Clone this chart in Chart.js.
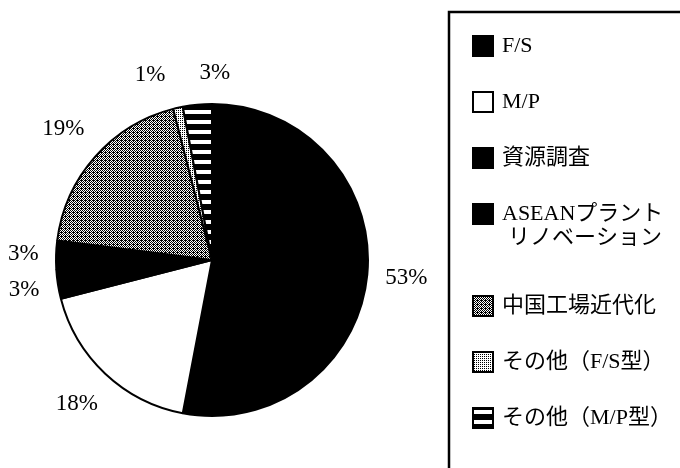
<!DOCTYPE html>
<html>
<head>
<meta charset="utf-8">
<script src="https://cdn.jsdelivr.net/npm/chart.js@4/dist/chart.umd.min.js"></script>
<style>
    html, body { margin: 0; padding: 0; background: #fff; }
    #wrap { position: relative; width: 680px; height: 468px; }
</style>
</head>
<body>
<div id="wrap"><canvas id="pieChart"></canvas></div>
<script>
    var categories = ['F/S', 'M/P', '資源調査', ['ASEANプラント', 'リノベーション'], '中国工場近代化', 'その他（F/S型）', 'その他（M/P型）'];
    var shares = [53, 18, 3, 3, 19, 1, 3];

    var FONT = '"Liberation Serif", "Noto Sans CJK JP", serif';

    function makePattern(w, h, paint) {
        var c = document.createElement('canvas');
        c.width = w;
        c.height = h;
        var g = c.getContext('2d');
        g.fillStyle = '#fff';
        g.fillRect(0, 0, w, h);
        g.fillStyle = '#000';
        paint(g);
        return g.createPattern(c, 'repeat');
    }

    var denseDots = makePattern(4, 4, function (g) {
        for (var y = 0; y < 4; y++) {
            for (var x = 0; x < 4; x++) {
                if ((x + y) % 2 === 0 || (x === 1 && y === 0)) g.fillRect(x, y, 1, 1);
            }
        }
    });
    var lightDots = makePattern(2, 2, function (g) {
        g.fillRect(0, 0, 1, 1);
    });
    var stripes = makePattern(4, 10, function (g) {
        g.fillRect(0, 4, 4, 6);
    });

    var fills = ['#000', '#fff', '#000', '#000', denseDots, lightDots, stripes];

    var pieLabels = {
        id: 'pieLabels',
        afterDatasetsDraw: function (chart) {
            var ctx = chart.ctx;
            var arcs = chart.getDatasetMeta(0).data;
            var h = 28, gap = 17, minGap = 34;
            ctx.save();
            ctx.font = '23px ' + FONT;
            var boxes = arcs.map(function (arc, i) {
                var p = arc.getProps(['x', 'y', 'startAngle', 'endAngle', 'outerRadius'], true);
                var mid = (p.startAngle + p.endAngle) / 2;
                var dx = Math.cos(mid), dy = Math.sin(mid);
                var text = shares[i] + '%';
                var w = ctx.measureText(text).width;
                var dist = p.outerRadius + gap + Math.abs(dx) * w / 2 + Math.abs(dy) * h / 2;
                return { text: text, w: w, x: p.x + dx * dist, y: p.y + dy * dist };
            });
            for (var i = 0; i < boxes.length; i++) {
                for (var j = i + 1; j < boxes.length; j++) {
                    var a = boxes[i], b = boxes[j];
                    if (Math.abs(a.y - b.y) >= 22) continue;
                    var left = a.x < b.x ? a : b, right = left === a ? b : a;
                    var space = (right.x - right.w / 2) - (left.x + left.w / 2);
                    if (space < minGap) {
                        var push = (minGap - space) / 2;
                        left.x -= push;
                        right.x += push;
                    }
                }
            }
            ctx.fillStyle = '#000';
            ctx.textAlign = 'center';
            ctx.textBaseline = 'middle';
            boxes.forEach(function (b) { ctx.fillText(b.text, b.x, b.y); });
            ctx.restore();
        }
    };

    var boxLegend = {
        id: 'boxLegend',
        afterDraw: function (chart) {
            var ctx = chart.ctx;
            var fillsUsed = chart.data.datasets[0].backgroundColor;
            ctx.save();
            ctx.strokeStyle = '#000';
            ctx.lineWidth = 2.5;
            ctx.beginPath();
            ctx.moveTo(449, 470);
            ctx.lineTo(449, 12);
            ctx.lineTo(680, 12);
            ctx.stroke();

            ctx.font = '22px ' + FONT;
            ctx.textBaseline = 'middle';
            ctx.fillStyle = '#000';
            var y = 46, size = 20, lineH = 24;
            chart.data.labels.forEach(function (label, i) {
                var lines = Array.isArray(label) ? label : [label];
                ctx.fillStyle = fillsUsed[i];
                ctx.fillRect(473, y - size / 2, size, size);
                ctx.lineWidth = 2;
                ctx.strokeRect(473, y - size / 2, size, size);
                ctx.fillStyle = '#000';
                lines.forEach(function (line, k) {
                    ctx.fillText(line, 502 + (k ? 6 : 0), y + k * lineH);
                });
                y += 56 + (lines.length - 1) * 36;
            });
            ctx.restore();
        }
    };

    new Chart(document.getElementById('pieChart'), {
        type: 'pie',
        data: {
            labels: categories,
            datasets: [{
                data: shares,
                backgroundColor: fills,
                borderColor: '#000',
                borderWidth: 2
            }]
        },
        options: {
            responsive: true,
            maintainAspectRatio: false,
            animation: false,
            layout: { padding: { left: 55, top: 103, right: 311, bottom: 51 } },
            plugins: {
                legend: { display: false },
                tooltip: { enabled: false }
            }
        },
        plugins: [pieLabels, boxLegend]
    });
</script>
</body>
</html>
